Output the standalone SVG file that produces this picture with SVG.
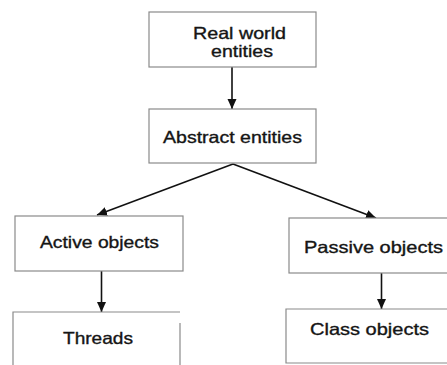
<svg xmlns="http://www.w3.org/2000/svg" width="447" height="365" viewBox="0 0 447 365">
  <style>
    .box { fill: #ffffff; stroke: #8a8a8a; stroke-width: 1.2; }
    .lbl { font-family: "Liberation Sans", Arial, sans-serif; font-size: 16.5px; fill: #151515; stroke: #151515; stroke-width: 0.35; }
    .edge { stroke: #111111; stroke-width: 1.6; fill: none; marker-end: url(#arrow); }
  </style>
  <defs>
    <marker id="arrow" markerUnits="userSpaceOnUse" markerWidth="11" markerHeight="10" refX="10" refY="4.5" orient="auto">
      <path d="M0,0 L10,4.5 L0,9 z" fill="#111111"/>
    </marker>
  </defs>
  <rect width="447" height="365" fill="#ffffff"/>

  <g id="connectors">
    <line class="edge" x1="232" y1="67" x2="232" y2="109"/>
    <line class="edge" x1="233" y1="164" x2="97" y2="215"/>
    <line class="edge" x1="233" y1="164" x2="376" y2="218"/>
    <line class="edge" x1="101.5" y1="271" x2="101.5" y2="312"/>
    <line class="edge" x1="381.5" y1="273" x2="381.5" y2="309"/>
  </g>

  <g id="real-world-entities">
    <rect class="box" x="149" y="12" width="167" height="55"/>
    <text class="lbl" x="193" y="39" textLength="93" lengthAdjust="spacingAndGlyphs">Real world</text>
    <text class="lbl" x="211" y="57" textLength="62" lengthAdjust="spacingAndGlyphs">entities</text>
  </g>

  <g id="abstract-entities">
    <rect class="box" x="149" y="109" width="167" height="54"/>
    <text class="lbl" x="163" y="143" textLength="139" lengthAdjust="spacingAndGlyphs">Abstract entities</text>
  </g>

  <g id="active-objects">
    <rect class="box" x="15" y="216" width="168" height="55"/>
    <text class="lbl" x="40" y="248" textLength="119" lengthAdjust="spacingAndGlyphs">Active objects</text>
  </g>

  <g id="passive-objects">
    <rect class="box" x="289" y="218" width="165" height="55"/>
    <text class="lbl" x="304" y="253" textLength="139" lengthAdjust="spacingAndGlyphs">Passive objects</text>
  </g>

  <g id="threads">
    <path class="box" d="M13,366 V312 H180 M180,323 V366" fill="none"/>
    <text class="lbl" x="63" y="344" textLength="70" lengthAdjust="spacingAndGlyphs">Threads</text>
  </g>

  <g id="class-objects">
    <path class="box" d="M450,309 H286 V363 H450"/>
    <text class="lbl" x="310" y="335" textLength="119" lengthAdjust="spacingAndGlyphs">Class objects</text>
  </g>
</svg>
